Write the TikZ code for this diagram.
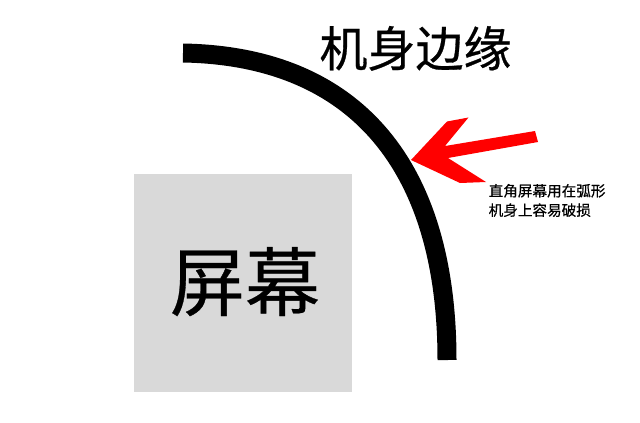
\documentclass[tikz,border=0pt]{standalone}
\usepackage{fontspec}
\newfontfamily\cjk[FakeBold=0.6]{Noto Sans CJK SC}
\newfontfamily\cjkbig[FakeBold=0.4]{Noto Sans CJK SC}
\definecolor{screengray}{RGB}{217,217,217}
\definecolor{arrowred}{RGB}{255,0,0}
\tikzset{
  screenbox/.style={fill=screengray, minimum width=218pt, minimum height=218pt, inner sep=0pt},
  bigtext/.style={font=\cjkbig\fontsize{75}{80}\selectfont, inner sep=0pt, anchor=base},
  titletext/.style={font=\cjk\fontsize{48}{52}\selectfont, inner sep=0pt, anchor=base},
  notetext/.style={font=\cjk\fontsize{14.6}{19}\selectfont, inner sep=0pt, anchor=base west},
  edgeline/.style={line width=19pt, line cap=butt}
}
\begin{document}
\begin{tikzpicture}[x=1pt,y=-1pt]
\useasboundingbox (0,0) rectangle (640,423);
\fill[white] (0,0) rectangle (640,423);
% screen
\node[screenbox] (scr) at (243,283) {};
\node[bigtext] (scrlabel) at (245,310) {屏幕};
% body edge arc
\coordinate (arcS) at (183,53);
\coordinate (arcE) at (447,360);
\draw[edgeline] (arcS) .. controls (355,56) and (447,165) .. (arcE);
% title
\node[titletext] (title) at (415.5,66.5) {机身边缘};
% red arrow
\fill[arrowred] (411,160) -- (447,121.5) -- (468.5,117.5) -- (445,146) -- (535,131) -- (538,142) -- (448,158) -- (486,182) -- (460,183) -- cycle;
% note
\node[notetext] (note1) at (488.5,196.3) {直角屏幕用在弧形};
\node[notetext] (note2) at (488.5,215.7) {机身上容易破损};
\end{tikzpicture}
\end{document}
